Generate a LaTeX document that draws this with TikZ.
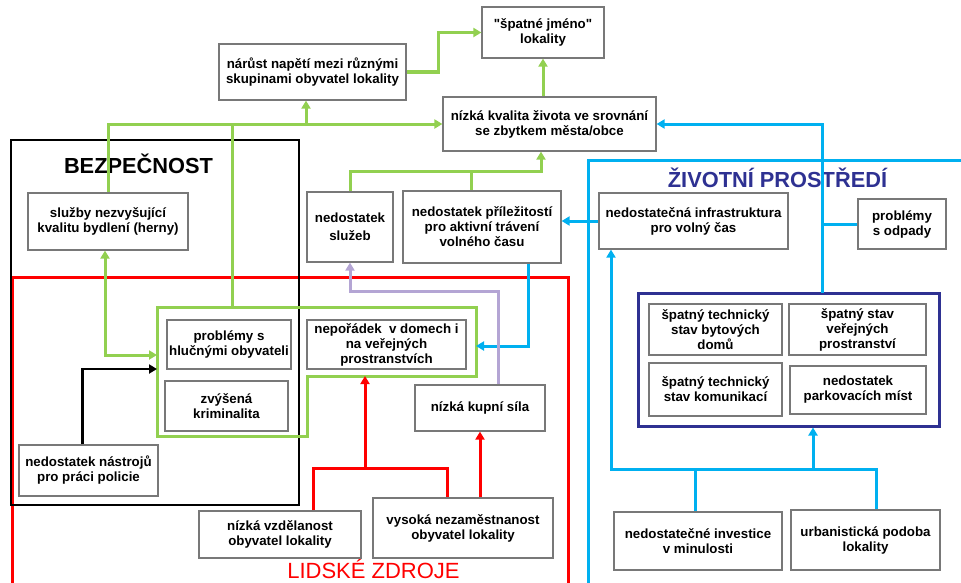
\documentclass[tikz,border=0pt]{standalone}
\usepackage{fontspec}
\setmainfont{Liberation Sans}
\usetikzlibrary{arrows,arrows.meta,positioning}
\definecolor{zelena}{RGB}{146,208,80}
\definecolor{modra}{RGB}{0,176,240}
\definecolor{cervena}{RGB}{255,0,0}
\definecolor{fialova}{RGB}{180,165,212}
\definecolor{tmava}{RGB}{46,49,146}
\definecolor{ramec}{RGB}{120,120,120}

\begin{document}
\begin{tikzpicture}[x=1pt, y=-1pt, >={Triangle[length=8pt,width=9pt]},
  box/.style={draw=ramec, line width=1.2pt, fill=white, align=center, inner sep=1pt,
              font=\bfseries\fontsize{13.3}{15}\selectfont},
  nadpis/.style={anchor=base, inner sep=0pt, font=\bfseries\fontsize{21.8}{24}\selectfont},
  zline/.style={zelena, line width=3pt},
  bline/.style={modra, line width=3pt},
  rline/.style={cervena, line width=3pt},
  lline/.style={fialova, line width=3pt}]
\useasboundingbox (0,0) rectangle (961,582);

\draw[rline] (12,586) -- (12,277) -- (568,277) -- (568,586);
\draw[bline] (588,586) -- (588,160) -- (965,160);
\node (BZ) [draw, line width=2.5pt, minimum width=288, minimum height=365] at (155,322.5) {};
\draw[zline] (157,307) -- (476,307) -- (476,376) -- (307,376) -- (307,436) -- (157,436) -- cycle;
\node (ZP) [draw=tmava, line width=3pt, minimum width=301, minimum height=133] at (788.5,359.5) {};

\coordinate (GT) at (232,307);
\coordinate (GL) at (157,355);
\coordinate (GK) at (157,369);
\coordinate (GR) at (476,346);
\coordinate (GB) at (365,376);

\node (BT) [nadpis] at (138.5,173) {BEZPEČNOST};
\node (ZT) [nadpis, tmava] at (777.5,187) {ŽIVOTNÍ PROSTŘEDÍ};
\node (LT) [nadpis, cervena, font=\fontsize{22}{24}\selectfont] at (373.5,578) {LIDSKÉ ZDROJE};

\node (SJ) [box, minimum width=122, minimum height=51] at (543,32.5) {\textquotedbl špatné jméno\textquotedbl\\lokality};
\node (NN) [box, minimum width=187, minimum height=56] at (312.5,72) {nárůst napětí mezi různými\\skupinami obyvatel lokality};
\node (NK) [box, minimum width=213, minimum height=54] at (549.5,124) {nízká kvalita života ve srovnání\\se zbytkem města/obce};
\node (SL) [box, minimum width=160, minimum height=57] at (108,221.5) {služby nezvyšující\\kvalitu bydlení (herny)};
\node (NS) [box, minimum width=86, minimum height=70] at (350,227) {nedostatek\\[3pt]služeb};
\node (NP) [box, minimum width=158, minimum height=72] at (482,227) {nedostatek příležitostí\\pro aktivní trávení\\volného času};
\node (NI) [box, minimum width=189, minimum height=56] at (693.5,221) {nedostatečná infrastruktura\\pro volný čas};
\node (PO) [box, minimum width=88, minimum height=50] at (902,224) {problémy\\s odpady};
\node (PH) [box, minimum width=124, minimum height=49] at (229,344.5) {problémy s\\hlučnými obyvateli};
\node (ZK) [box, minimum width=123, minimum height=50] at (226.5,406) {zvýšená\\kriminalita};
\node (NE) [box, minimum width=159, minimum height=49] at (386.5,344.5) {nepořádek\ \ v domech i\\na veřejných\\prostranstvích};
\node (KS) [box, minimum width=130, minimum height=46] at (480,408) {nízká kupní síla};
\node (VN) [box, minimum width=180, minimum height=60] at (463,528) {vysoká nezaměstnanost\\obyvatel lokality};
\node (VZ) [box, minimum width=162, minimum height=47] at (280,534.5) {nízká vzdělanost\\obyvatel lokality};
\node (NT) [box, minimum width=139, minimum height=51] at (88.5,470.5) {nedostatek nástrojů\\pro práci policie};
\node (B1) [box, minimum width=133, minimum height=51] at (715.5,329.5) {špatný technický\\stav bytových\\domů};
\node (B2) [box, minimum width=137, minimum height=51] at (857.5,329.5) {špatný stav\\veřejných\\prostranství};
\node (B3) [box, minimum width=133, minimum height=53] at (715.5,389.5) {špatný technický\\stav komunikací};
\node (B4) [box, minimum width=136, minimum height=48] at (858,390) {nedostatek\\parkovacích míst};
\node (IV) [box, minimum width=168, minimum height=58] at (698,541) {nedostatečné investice\\v minulosti};
\node (UP) [box, minimum width=149, minimum height=60] at (865.5,540) {urbanistická podoba\\lokality};

\coordinate (NA) at (306,124);
\coordinate (NB) at (541,171);
\coordinate (MA) at (822,293);
\coordinate (MB) at (611,469);
\coordinate (MC) at (876,469);
\coordinate (MD) at (813,469);
\coordinate (CA) at (313,468);
\coordinate (CB) at (447,468);
\coordinate (CC) at (365,468);

\draw[zline, ->, line width=3.5pt] (NN.east) -- ++(32,0) |- (SJ.west);
\draw[zline, ->] (SJ.south |- NK.north) -- (SJ.south);
\draw[zline, ->] (SL.north) |- (NK.west);
\draw[zline] (GT) -- (GT |- NK.west);
\draw[zline, ->] (NA) -- (NA |- NN.south);
\draw[zline, ->] (NS.north) |- (NB) -- (NB |- NK.south);
\draw[zline] ([xshift=-11]NP.north) -- ([xshift=-11]NP.north |- NB);
\draw[zline, <->] ([xshift=-3]SL.south) |- (GL);
\draw[line width=2.5pt, ->] ([xshift=-6]NT.north) |- (GK);

\draw[bline, ->] (MA) |- (NK.east);
\draw[bline] (PO.west) -- (PO.west -| MA);
\draw[bline, ->] (NI.west) -- (NI.west -| NP.east);
\draw[bline, ->] ([xshift=46]NP.south) |- (GR);
\draw[bline, ->] (UP.north -| MC) -- (MC) -- (MB) -- (MB |- NI.south);
\draw[bline] ([xshift=-3]IV.north) -- ([xshift=-3]IV.north |- MB);
\draw[bline, ->] (MD) -- (MD |- ZP.south);

\draw[rline] (CA |- VZ.north) -- (CA) -- (CB) -- (CB |- VN.north);
\draw[rline, ->] (CC) -- (GB);
\draw[rline, ->] (KS.south |- VN.north) -- (KS.south);

\draw[lline, ->] ([xshift=18]KS.north) -- ++(0,-93) -| (NS.south);
\end{tikzpicture}
\end{document}
